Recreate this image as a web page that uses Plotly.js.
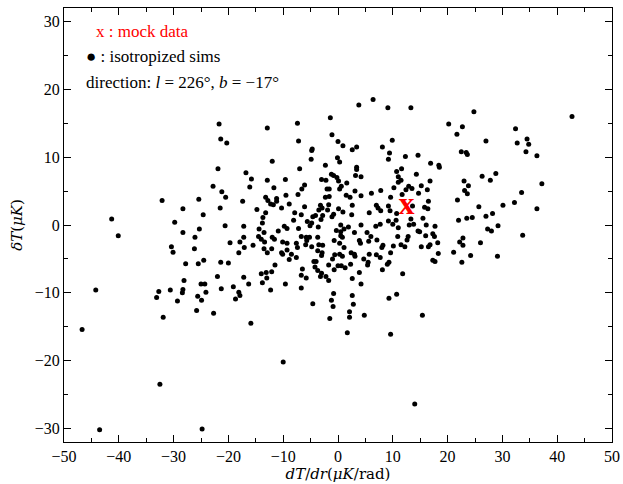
<!DOCTYPE html>
<html>
<head>
<meta charset="utf-8">
<script src="https://cdn.plot.ly/plotly-3.0.1.min.js"></script>
<style>html,body{margin:0;padding:0;background:#fff;}#chart{width:623px;height:484px;}</style>
</head>
<body>
<div id="chart"></div>
<script>
// isotropized simulations: dT/dr (x) and deltaT (y)
const simX = [
-46.7,-44.2,-43.5,-41.3,-40.1,-32.5,-32.1,-32.7,-33.1,-31.9,-30.4,-30.1,-30.6,-29.8,-29.3,-28.3,-28.4,-28.1,-28.3,-28.3,
-27.8,-26.2,-26.1,-25.5,-25.4,-25.3,-25.8,-25.6,-24.9,-25.0,-24.3,-24.1,-24.5,-24.6,-24.8,-21.7,-12.9,-7.4,-21.4,-20.3,
-7.2,-12.0,-21.9,-7.0,-16.8,-15.8,-12.9,-9.6,-22.8,-16.1,-11.7,-21.2,-20.5,-17.4,-13.2,-12.8,-11.2,-11.2,-9.5,-7.3,
-12.3,-11.8,-10.3,-8.9,-21.5,-14.8,-13.2,-7.9,-13.7,-8.1,-13.8,-20.6,-17.2,-14.4,-9.8,-9.3,-7.2,-17.2,-14.5,-13.5,
-10.9,-14.0,-13.4,-12.0,-11.6,-19.7,-17.9,-10.1,-9.3,-7.6,-15.5,-17.1,-13.5,-12.1,-12.9,-10.3,-10.1,-9.3,-8.5,-7.4,
-18.1,-7.6,-8.9,-21.4,-20.0,-11.5,-14.0,-13.1,-12.1,-22.0,-17.2,-13.0,-13.8,-16.3,-9.6,-19.1,-21.3,-12.3,-18.1,-17.9,
-18.7,-22.7,-15.9,-10.0,6.4,3.8,9.1,-1.4,-1.1,9.9,0.0,0.9,3.4,2.6,8.1,-4.7,-4.8,9.4,-0.1,0.3,
-4.9,9.2,-2.3,3.4,3.4,10.7,-1.2,-0.8,3.2,4.2,-0.2,-3.0,-2.2,11.0,0.1,1.6,11.0,-6.1,0.6,0.3,
-2.0,-1.6,-6.6,10.2,3.1,7.8,6.1,1.5,2.2,4.2,-2.3,-1.6,9.6,-6.1,-3.2,-2.9,-1.7,2.6,7.0,7.3,
9.2,0.1,-3.5,-1.9,0.9,5.7,7.8,9.5,10.7,-6.7,-4.6,-4.1,-2.8,-1.1,-0.8,2.5,-5.6,-4.8,-3.1,-5.1,
-3.6,0.5,1.9,1.1,4.2,6.9,7.7,9.2,10.0,10.6,11.0,-6.7,-5.8,-5.2,-3.7,-5.7,-5.9,-4.8,-3.5,-2.8,
-3.7,-2.9,-3.0,-0.7,0.3,1.1,-0.3,0.5,0.5,0.8,3.0,5.3,6.0,3.9,4.1,5.6,7.1,8.2,8.0,10.1,
10.9,9.6,-0.6,0.3,0.8,2.4,3.0,3.1,5.7,7.0,7.7,-1.0,4.7,5.5,5.4,9.3,9.0,-1.7,0.0,0.6,
1.3,2.3,-0.7,-4.0,-4.4,-4.2,-3.7,-3.0,-3.2,-2.2,-6.5,-6.7,-5.8,-1.7,3.9,2.6,8.1,4.2,-6.7,-0.8,
2.6,10.7,9.3,-4.6,-1.2,-0.9,2.8,2.1,2.1,4.8,-1.5,1.7,9.6,13.3,24.8,20.2,22.7,21.7,27.0,22.5,
23.4,23.6,12.3,14.6,16.9,18.4,18.5,11.6,14.3,28.8,26.3,27.8,11.5,23.0,16.8,23.8,15.2,12.9,12.4,13.5,
16.3,23.1,23.6,14.7,11.7,21.8,16.5,15.8,16.4,13.6,25.7,28.2,27.0,24.5,23.5,22.0,15.5,13.3,16.1,17.7,
13.0,13.8,29.2,27.3,14.6,14.9,17.3,17.6,16.0,12.8,12.6,11.5,12.2,15.2,16.5,16.8,18.2,22.8,22.2,22.8,
26.0,28.0,21.1,18.3,24.2,29.1,17.3,17.7,22.6,11.8,15.4,14.0,42.7,32.4,34.5,32.7,34.8,34.3,36.3,37.2,
33.5,30.1,32.2,36.3,33.7
];
const simY = [
-15.4,-9.6,-30.2,0.9,-1.6,-23.5,3.6,-9.8,-10.7,-13.6,-3.2,-4.0,-9.6,0.4,-11.2,-9.5,-10.0,-8.2,2.4,-1.1,
-5.7,-3.5,-1.8,-5.7,3.8,-0.6,-12.6,-10.5,-11.1,-8.7,-8.7,-9.9,-5.2,1.5,-30.1,14.9,14.3,15.0,12.7,12.1,
12.4,9.4,8.3,8.3,7.7,6.8,6.6,6.7,5.7,5.6,5.5,4.9,4.1,3.5,4.1,3.6,3.9,3.5,4.4,4.5,
3.1,3.0,2.5,3.1,2.5,2.3,1.8,1.8,1.1,0.7,0.3,-0.1,-0.2,-0.6,-0.2,-0.5,-0.5,-1.8,-1.7,-1.1,
-0.9,-2.1,-2.5,-1.8,-2.1,-2.6,-2.5,-2.5,-2.7,-2.7,-3.0,-3.3,-3.5,-3.5,-4.1,-4.1,-4.3,-3.7,-4.3,-3.3,
-4.1,-4.8,-5.1,-5.5,-5.6,-5.9,-7.2,-7.0,-6.9,-7.6,-7.7,-7.8,-8.5,-8.7,-8.7,-9.1,-9.4,-9.6,-9.9,-10.4,
-10.9,-13.0,-14.5,-20.2,18.5,17.7,17.3,15.8,13.3,12.5,12.3,11.7,11.5,11.1,11.5,11.2,11.0,10.6,9.9,9.3,
9.7,9.7,8.8,8.5,8.2,7.9,7.5,7.3,7.3,7.1,7.0,6.7,6.6,7.1,6.5,6.2,6.3,5.9,5.7,5.3,
5.3,5.3,5.3,5.5,5.0,5.1,4.7,4.4,4.1,4.3,4.1,4.2,4.1,2.7,2.9,2.5,3.0,2.9,2.9,2.5,
2.8,2.4,2.2,2.2,1.9,1.8,2.1,2.1,1.7,1.5,1.2,1.4,1.4,1.2,1.6,1.5,0.5,0.3,0.8,-0.1,
-0.3,0.0,-0.3,-0.6,0.0,-0.2,0.1,0.6,0.1,0.7,-0.4,-1.7,-1.8,-1.8,-1.8,-2.3,-2.9,-3.2,-2.9,-3.0,
-3.8,-4.1,-4.5,-2.3,-2.7,-3.3,-0.8,-1.0,-1.6,-1.8,-1.1,-1.1,-1.7,-2.3,-2.7,-2.4,-2.2,-3.0,-3.3,-3.1,
-1.7,-4.1,-4.4,-4.3,-4.6,-4.1,-4.3,-4.6,-4.3,-4.4,-4.8,-5.0,-5.0,-5.5,-5.9,-5.5,-5.8,-5.9,-6.0,-6.0,
-6.3,-5.8,-6.6,-5.4,-5.4,-6.2,-6.7,-7.1,-7.6,-7.6,-6.5,-7.4,-7.8,-8.2,-7.0,-7.9,-6.6,-8.7,-9.3,-10.1,
-10.4,-10.2,-10.8,-11.6,-11.1,-12.0,-11.7,-12.8,-13.6,-13.3,-13.8,-15.9,-16.1,17.3,16.7,14.9,14.5,13.4,12.4,10.8,
10.7,10.4,10.1,10.3,9.1,8.8,8.5,8.3,7.5,7.6,7.2,6.6,6.6,6.5,6.5,5.8,5.8,5.7,5.2,5.4,
5.2,5.1,4.6,4.7,4.5,3.7,3.5,2.6,2.4,2.8,2.7,1.7,1.3,1.1,1.0,0.7,1.0,0.9,0.0,-0.2,
0.0,0.1,-0.1,-0.6,-0.9,-1.0,-1.3,-1.7,-1.6,-1.7,-2.2,-2.9,-3.2,-3.2,-3.2,-2.9,-2.6,-1.9,-2.5,-3.0,
-2.6,-0.9,-4.0,-4.2,-4.5,-4.6,-5.2,-5.4,-5.5,-7.2,-13.3,-26.4,16.0,14.2,12.7,12.1,11.9,10.8,10.2,6.1,
4.8,2.9,3.3,2.4,-1.5
];
// mock data point
const mockX = [12.5];
const mockY = [2.8];

const xTickVals = [-50,-40,-30,-20,-10,0,10,20,30,40,50];
const yTickVals = [-30,-20,-10,0,10,20,30];

const serif = "Liberation Serif";
const titleSerif = "DejaVu Serif";

const traces = [
  {
    x: simX, y: simY, type: 'scatter', mode: 'markers',
    marker: {color: '#000000', size: 5, line: {width: 0}},
    hoverinfo: 'skip', showlegend: false
  },
  {
    x: mockX, y: mockY, type: 'scatter', mode: 'text',
    text: ['<b>x</b>'], textposition: 'middle center',
    textfont: {family: serif, size: 32, color: '#ff0000'},
    hoverinfo: 'skip', showlegend: false
  }
];

const axisCommon = {
  showgrid: false, zeroline: false,
  showline: true, linecolor: '#000', linewidth: 1, mirror: 'allticks',
  ticks: 'inside', ticklen: 7, tickwidth: 1, tickcolor: '#000',
  tickfont: {family: serif, size: 16, color: '#000'},
  minor: {ticks: 'inside', dtick: 5, ticklen: 4, tickwidth: 1, tickcolor: '#000', showgrid: false}
};

const layout = {
  width: 623, height: 484,
  margin: {l: 64, r: 11, t: 8, b: 42},
  paper_bgcolor: '#fff', plot_bgcolor: '#fff',
  showlegend: false,
  xaxis: Object.assign({}, axisCommon, {
    range: [-50, 50], tickmode: 'array', tickvals: xTickVals,
    title: {text: '<i>dT</i>/<i>dr</i>(<i>μK</i>/rad)', font: {family: titleSerif, size: 15, color: '#000'}, standoff: 3}
  }),
  yaxis: Object.assign({}, axisCommon, {
    range: [-32, 32], tickmode: 'array', tickvals: yTickVals,
    title: {text: '<i>δT</i>(<i>μK</i>)', font: {family: titleSerif, size: 15, color: '#000'}, standoff: 8}
  }),
  annotations: [
    {xref: 'paper', yref: 'paper', x: 0.055, y: 0.947, xanchor: 'left', yanchor: 'middle', showarrow: false,
     text: 'x : mock data', font: {family: serif, size: 17, color: '#ff0000'}},
    {xref: 'paper', yref: 'paper', x: 0.036, y: 0.889, xanchor: 'left', yanchor: 'middle', showarrow: false,
     text: '● : isotropized sims', font: {family: serif, size: 17, color: '#000'}},
    {xref: 'paper', yref: 'paper', x: 0.036, y: 0.829, xanchor: 'left', yanchor: 'middle', showarrow: false,
     text: 'direction: <i>l</i> = 226°, <i>b</i> = −17°', font: {family: serif, size: 17, color: '#000'}}
  ]
};

Plotly.newPlot('chart', traces, layout, {displayModeBar: false, staticPlot: true});
</script>
</body>
</html>
